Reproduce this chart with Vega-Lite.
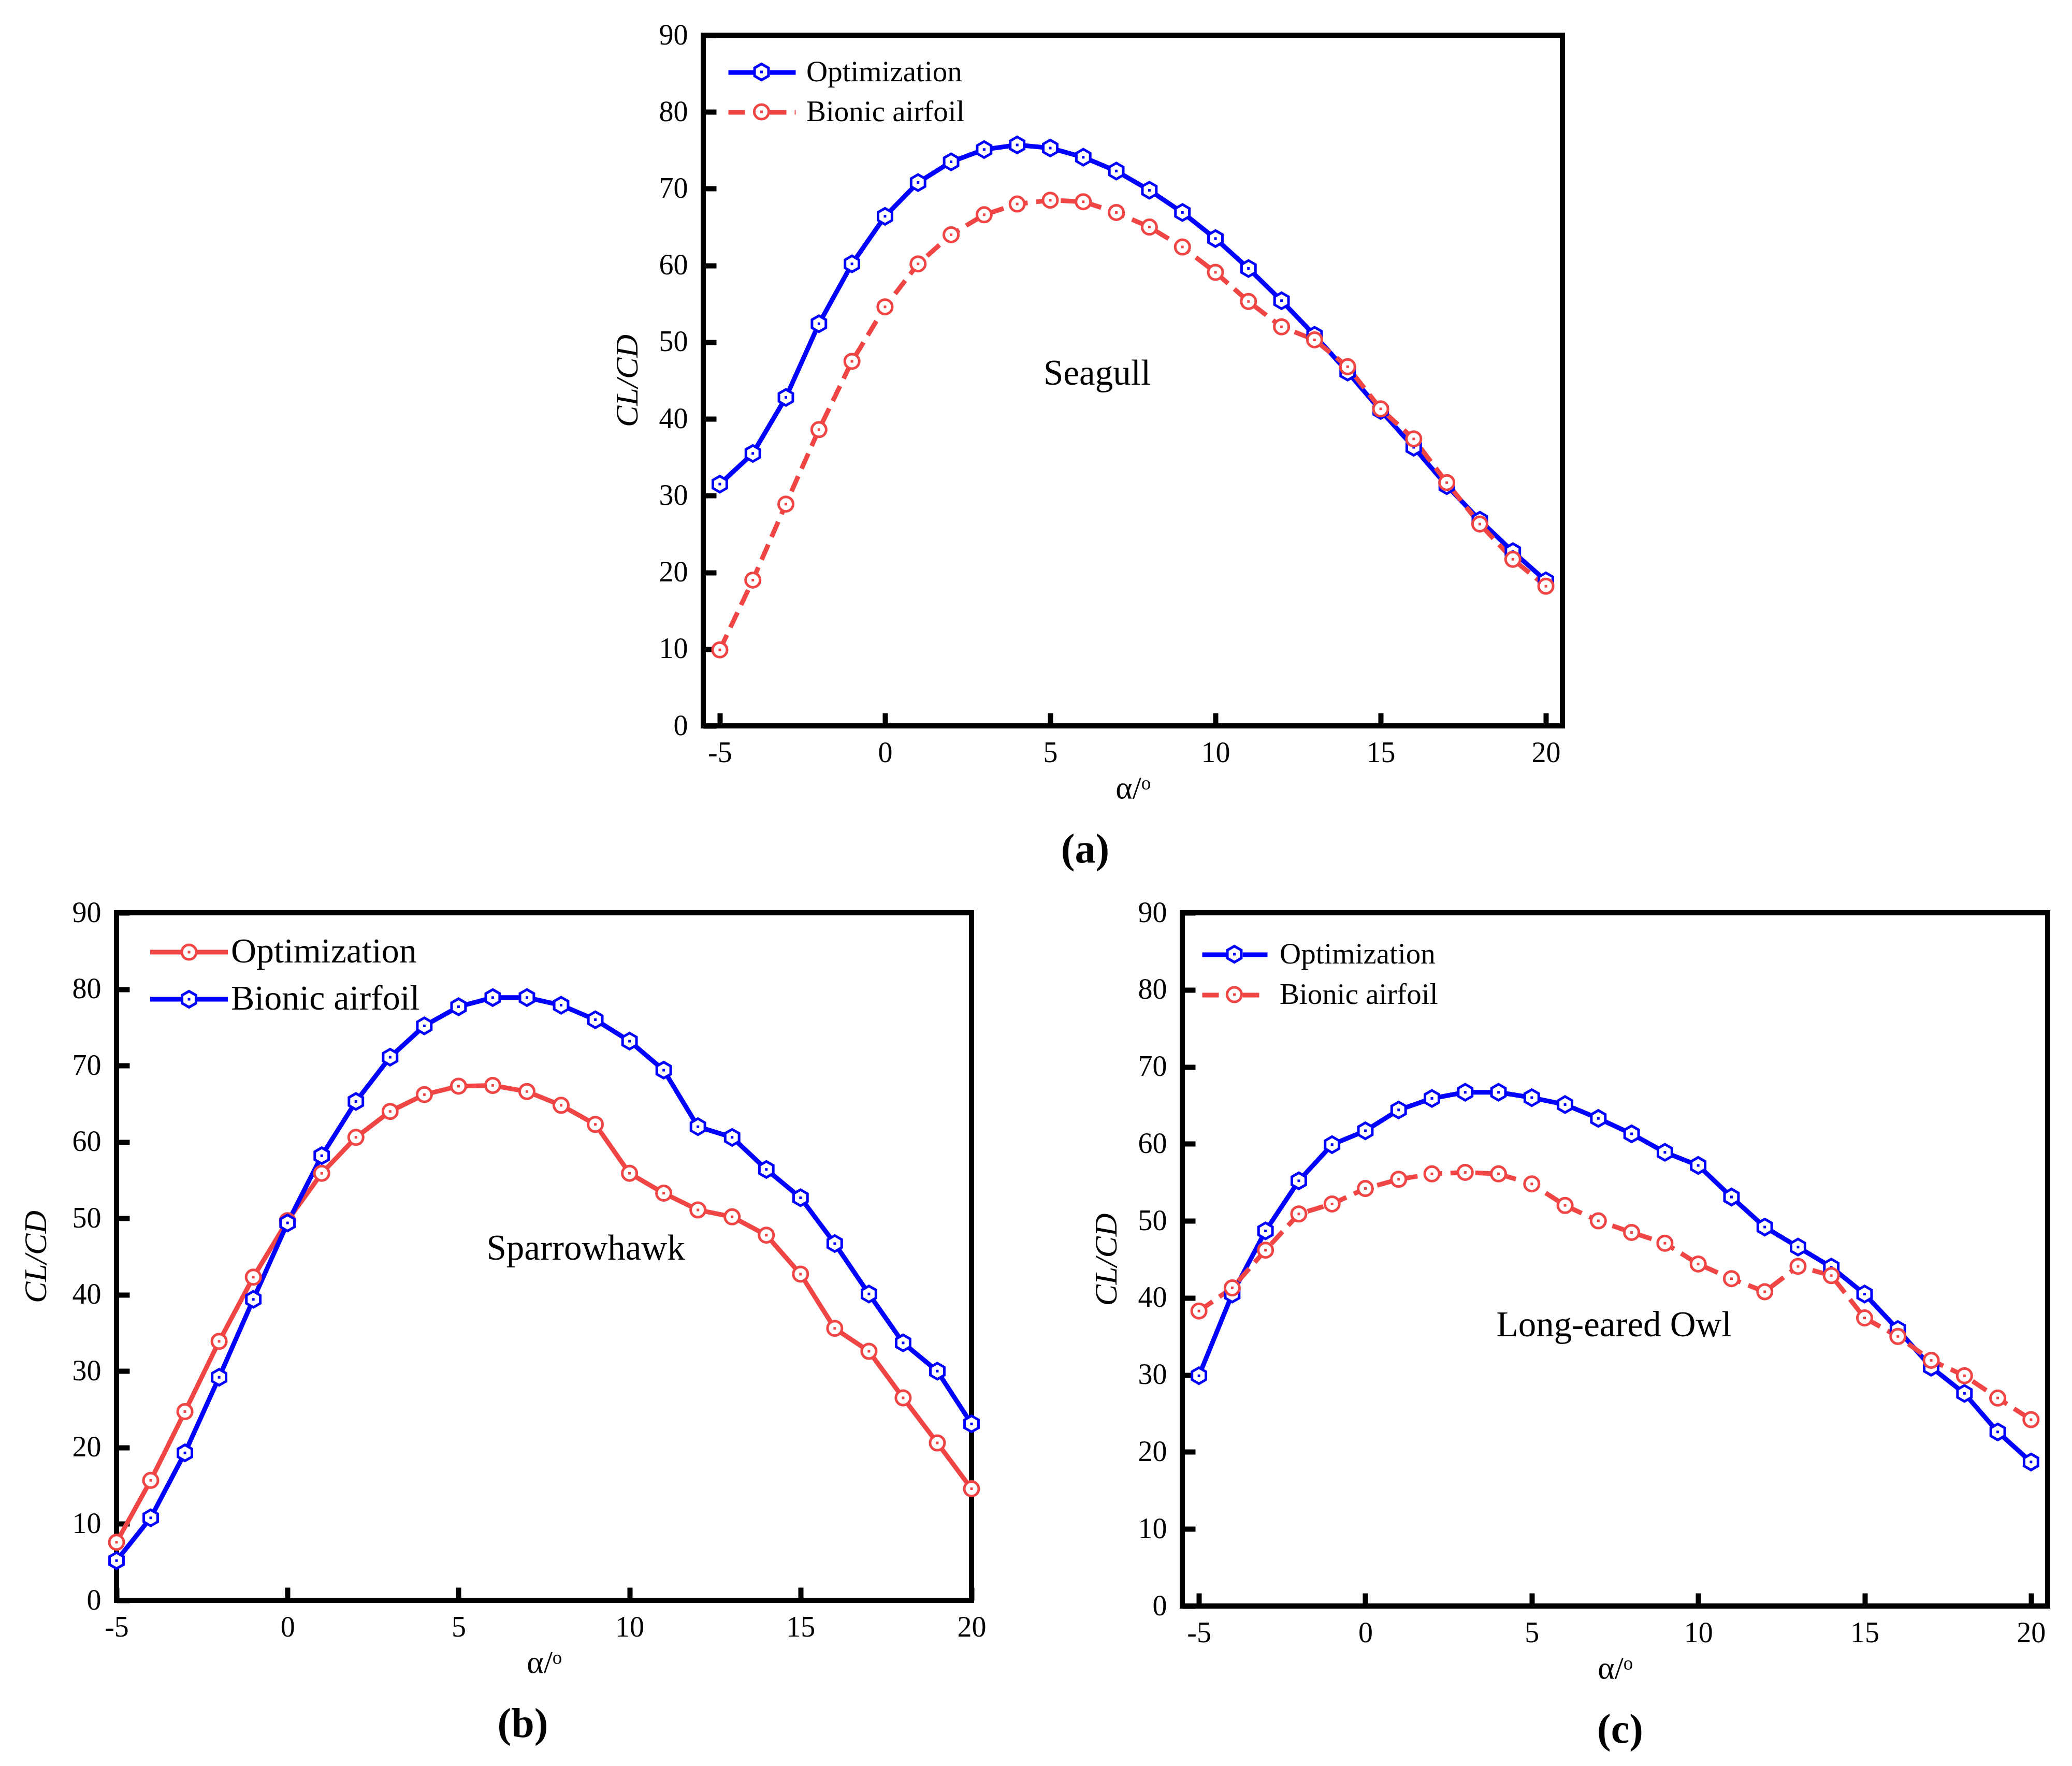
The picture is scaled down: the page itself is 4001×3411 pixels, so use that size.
{
  "$schema": "https://vega.github.io/schema/vega-lite/v6.json",
  "padding": {"left": 33, "top": 35, "right": 5, "bottom": 5},
  "background": "white",
  "datasets": {
    "a": [
      {"alpha": -5, "ratio": 31.5, "series": "Optimization"}, {"alpha": -4, "ratio": 35.5, "series": "Optimization"}, {"alpha": -3, "ratio": 42.8, "series": "Optimization"}, {"alpha": -2, "ratio": 52.4, "series": "Optimization"}, {"alpha": -1, "ratio": 60.2, "series": "Optimization"}, {"alpha": 0, "ratio": 66.4, "series": "Optimization"}, {"alpha": 1, "ratio": 70.8, "series": "Optimization"}, {"alpha": 2, "ratio": 73.5, "series": "Optimization"}, {"alpha": 3, "ratio": 75.1, "series": "Optimization"}, {"alpha": 4, "ratio": 75.7, "series": "Optimization"}, {"alpha": 5, "ratio": 75.3, "series": "Optimization"}, {"alpha": 6, "ratio": 74.1, "series": "Optimization"}, {"alpha": 7, "ratio": 72.3, "series": "Optimization"}, {"alpha": 8, "ratio": 69.8, "series": "Optimization"}, {"alpha": 9, "ratio": 66.9, "series": "Optimization"}, {"alpha": 10, "ratio": 63.5, "series": "Optimization"}, {"alpha": 11, "ratio": 59.6, "series": "Optimization"}, {"alpha": 12, "ratio": 55.4, "series": "Optimization"}, {"alpha": 13, "ratio": 50.9, "series": "Optimization"}, {"alpha": 14, "ratio": 46.1, "series": "Optimization"}, {"alpha": 15, "ratio": 41.1, "series": "Optimization"}, {"alpha": 16, "ratio": 36.3, "series": "Optimization"}, {"alpha": 17, "ratio": 31.3, "series": "Optimization"}, {"alpha": 18, "ratio": 26.8, "series": "Optimization"}, {"alpha": 19, "ratio": 22.7, "series": "Optimization"}, {"alpha": 20, "ratio": 18.9, "series": "Optimization"},
      {"alpha": -5, "ratio": 9.9, "series": "Bionic airfoil"}, {"alpha": -4, "ratio": 19.0, "series": "Bionic airfoil"}, {"alpha": -3, "ratio": 28.9, "series": "Bionic airfoil"}, {"alpha": -2, "ratio": 38.6, "series": "Bionic airfoil"}, {"alpha": -1, "ratio": 47.5, "series": "Bionic airfoil"}, {"alpha": 0, "ratio": 54.6, "series": "Bionic airfoil"}, {"alpha": 1, "ratio": 60.2, "series": "Bionic airfoil"}, {"alpha": 2, "ratio": 64.0, "series": "Bionic airfoil"}, {"alpha": 3, "ratio": 66.6, "series": "Bionic airfoil"}, {"alpha": 4, "ratio": 68.0, "series": "Bionic airfoil"}, {"alpha": 5, "ratio": 68.5, "series": "Bionic airfoil"}, {"alpha": 6, "ratio": 68.3, "series": "Bionic airfoil"}, {"alpha": 7, "ratio": 66.9, "series": "Bionic airfoil"}, {"alpha": 8, "ratio": 65.0, "series": "Bionic airfoil"}, {"alpha": 9, "ratio": 62.4, "series": "Bionic airfoil"}, {"alpha": 10, "ratio": 59.1, "series": "Bionic airfoil"}, {"alpha": 11, "ratio": 55.3, "series": "Bionic airfoil"}, {"alpha": 12, "ratio": 52.0, "series": "Bionic airfoil"}, {"alpha": 13, "ratio": 50.3, "series": "Bionic airfoil"}, {"alpha": 14, "ratio": 46.8, "series": "Bionic airfoil"}, {"alpha": 15, "ratio": 41.3, "series": "Bionic airfoil"}, {"alpha": 16, "ratio": 37.4, "series": "Bionic airfoil"}, {"alpha": 17, "ratio": 31.7, "series": "Bionic airfoil"}, {"alpha": 18, "ratio": 26.3, "series": "Bionic airfoil"}, {"alpha": 19, "ratio": 21.7, "series": "Bionic airfoil"}, {"alpha": 20, "ratio": 18.2, "series": "Bionic airfoil"}
    ],
    "b": [
      {"alpha": -5, "ratio": 7.6, "series": "Optimization"}, {"alpha": -4, "ratio": 15.7, "series": "Optimization"}, {"alpha": -3, "ratio": 24.7, "series": "Optimization"}, {"alpha": -2, "ratio": 33.9, "series": "Optimization"}, {"alpha": -1, "ratio": 42.3, "series": "Optimization"}, {"alpha": 0, "ratio": 49.7, "series": "Optimization"}, {"alpha": 1, "ratio": 55.9, "series": "Optimization"}, {"alpha": 2, "ratio": 60.6, "series": "Optimization"}, {"alpha": 3, "ratio": 64.0, "series": "Optimization"}, {"alpha": 4, "ratio": 66.2, "series": "Optimization"}, {"alpha": 5, "ratio": 67.3, "series": "Optimization"}, {"alpha": 6, "ratio": 67.4, "series": "Optimization"}, {"alpha": 7, "ratio": 66.6, "series": "Optimization"}, {"alpha": 8, "ratio": 64.8, "series": "Optimization"}, {"alpha": 9, "ratio": 62.3, "series": "Optimization"}, {"alpha": 10, "ratio": 55.9, "series": "Optimization"}, {"alpha": 11, "ratio": 53.3, "series": "Optimization"}, {"alpha": 12, "ratio": 51.1, "series": "Optimization"}, {"alpha": 13, "ratio": 50.2, "series": "Optimization"}, {"alpha": 14, "ratio": 47.8, "series": "Optimization"}, {"alpha": 15, "ratio": 42.7, "series": "Optimization"}, {"alpha": 16, "ratio": 35.6, "series": "Optimization"}, {"alpha": 17, "ratio": 32.6, "series": "Optimization"}, {"alpha": 18, "ratio": 26.5, "series": "Optimization"}, {"alpha": 19, "ratio": 20.6, "series": "Optimization"}, {"alpha": 20, "ratio": 14.6, "series": "Optimization"},
      {"alpha": -5, "ratio": 5.2, "series": "Bionic airfoil"}, {"alpha": -4, "ratio": 10.8, "series": "Bionic airfoil"}, {"alpha": -3, "ratio": 19.3, "series": "Bionic airfoil"}, {"alpha": -2, "ratio": 29.2, "series": "Bionic airfoil"}, {"alpha": -1, "ratio": 39.4, "series": "Bionic airfoil"}, {"alpha": 0, "ratio": 49.4, "series": "Bionic airfoil"}, {"alpha": 1, "ratio": 58.2, "series": "Bionic airfoil"}, {"alpha": 2, "ratio": 65.3, "series": "Bionic airfoil"}, {"alpha": 3, "ratio": 71.1, "series": "Bionic airfoil"}, {"alpha": 4, "ratio": 75.2, "series": "Bionic airfoil"}, {"alpha": 5, "ratio": 77.7, "series": "Bionic airfoil"}, {"alpha": 6, "ratio": 78.9, "series": "Bionic airfoil"}, {"alpha": 7, "ratio": 78.9, "series": "Bionic airfoil"}, {"alpha": 8, "ratio": 77.9, "series": "Bionic airfoil"}, {"alpha": 9, "ratio": 76.0, "series": "Bionic airfoil"}, {"alpha": 10, "ratio": 73.2, "series": "Bionic airfoil"}, {"alpha": 11, "ratio": 69.4, "series": "Bionic airfoil"}, {"alpha": 12, "ratio": 62.0, "series": "Bionic airfoil"}, {"alpha": 13, "ratio": 60.6, "series": "Bionic airfoil"}, {"alpha": 14, "ratio": 56.4, "series": "Bionic airfoil"}, {"alpha": 15, "ratio": 52.7, "series": "Bionic airfoil"}, {"alpha": 16, "ratio": 46.7, "series": "Bionic airfoil"}, {"alpha": 17, "ratio": 40.1, "series": "Bionic airfoil"}, {"alpha": 18, "ratio": 33.7, "series": "Bionic airfoil"}, {"alpha": 19, "ratio": 30.0, "series": "Bionic airfoil"}, {"alpha": 20, "ratio": 23.1, "series": "Bionic airfoil"}
    ],
    "c": [
      {"alpha": -5, "ratio": 29.9, "series": "Optimization"}, {"alpha": -4, "ratio": 40.5, "series": "Optimization"}, {"alpha": -3, "ratio": 48.7, "series": "Optimization"}, {"alpha": -2, "ratio": 55.2, "series": "Optimization"}, {"alpha": -1, "ratio": 59.9, "series": "Optimization"}, {"alpha": 0, "ratio": 61.7, "series": "Optimization"}, {"alpha": 1, "ratio": 64.4, "series": "Optimization"}, {"alpha": 2, "ratio": 65.9, "series": "Optimization"}, {"alpha": 3, "ratio": 66.7, "series": "Optimization"}, {"alpha": 4, "ratio": 66.7, "series": "Optimization"}, {"alpha": 5, "ratio": 66.0, "series": "Optimization"}, {"alpha": 6, "ratio": 65.1, "series": "Optimization"}, {"alpha": 7, "ratio": 63.3, "series": "Optimization"}, {"alpha": 8, "ratio": 61.3, "series": "Optimization"}, {"alpha": 9, "ratio": 58.9, "series": "Optimization"}, {"alpha": 10, "ratio": 57.2, "series": "Optimization"}, {"alpha": 11, "ratio": 53.1, "series": "Optimization"}, {"alpha": 12, "ratio": 49.2, "series": "Optimization"}, {"alpha": 13, "ratio": 46.6, "series": "Optimization"}, {"alpha": 14, "ratio": 44.0, "series": "Optimization"}, {"alpha": 15, "ratio": 40.5, "series": "Optimization"}, {"alpha": 16, "ratio": 35.9, "series": "Optimization"}, {"alpha": 17, "ratio": 31.0, "series": "Optimization"}, {"alpha": 18, "ratio": 27.6, "series": "Optimization"}, {"alpha": 19, "ratio": 22.6, "series": "Optimization"}, {"alpha": 20, "ratio": 18.7, "series": "Optimization"},
      {"alpha": -5, "ratio": 38.3, "series": "Bionic airfoil"}, {"alpha": -4, "ratio": 41.3, "series": "Bionic airfoil"}, {"alpha": -3, "ratio": 46.2, "series": "Bionic airfoil"}, {"alpha": -2, "ratio": 50.9, "series": "Bionic airfoil"}, {"alpha": -1, "ratio": 52.2, "series": "Bionic airfoil"}, {"alpha": 0, "ratio": 54.2, "series": "Bionic airfoil"}, {"alpha": 1, "ratio": 55.4, "series": "Bionic airfoil"}, {"alpha": 2, "ratio": 56.1, "series": "Bionic airfoil"}, {"alpha": 3, "ratio": 56.3, "series": "Bionic airfoil"}, {"alpha": 4, "ratio": 56.1, "series": "Bionic airfoil"}, {"alpha": 5, "ratio": 54.8, "series": "Bionic airfoil"}, {"alpha": 6, "ratio": 52.0, "series": "Bionic airfoil"}, {"alpha": 7, "ratio": 50.0, "series": "Bionic airfoil"}, {"alpha": 8, "ratio": 48.5, "series": "Bionic airfoil"}, {"alpha": 9, "ratio": 47.1, "series": "Bionic airfoil"}, {"alpha": 10, "ratio": 44.4, "series": "Bionic airfoil"}, {"alpha": 11, "ratio": 42.5, "series": "Bionic airfoil"}, {"alpha": 12, "ratio": 40.8, "series": "Bionic airfoil"}, {"alpha": 13, "ratio": 44.1, "series": "Bionic airfoil"}, {"alpha": 14, "ratio": 42.9, "series": "Bionic airfoil"}, {"alpha": 15, "ratio": 37.4, "series": "Bionic airfoil"}, {"alpha": 16, "ratio": 35.0, "series": "Bionic airfoil"}, {"alpha": 17, "ratio": 31.9, "series": "Bionic airfoil"}, {"alpha": 18, "ratio": 29.9, "series": "Bionic airfoil"}, {"alpha": 19, "ratio": 27.0, "series": "Bionic airfoil"}, {"alpha": 20, "ratio": 24.2, "series": "Bionic airfoil"}
    ],
    "notes": [
      {"panel": "a", "label": "Seagull"},
      {"panel": "b", "label": "Sparrowhawk"},
      {"panel": "c", "label": "Long-eared Owl"}
    ]
  },
  "config": {
    "font": "Liberation Serif",
    "view": {"stroke": "black", "strokeWidth": 10},
    "axis": {
      "grid": false, "domain": false, "ticks": true, "tickSize": -25, "tickWidth": 10, "tickColor": "black",
      "labelFont": "Liberation Serif", "labelFontSize": 56, "labelColor": "black", "labelFlush": false, "labelOverlap": false,
      "titleFont": "Liberation Serif", "titleFontWeight": "normal", "titleColor": "black", "titleFontSize": 62
    },
    "axisX": {"labelPadding": 50, "minExtent": 81, "maxExtent": 81, "titlePadding": 9},
    "axisY": {"labelPadding": 55, "minExtent": 86, "maxExtent": 86, "titlePadding": 29},
    "legend": {"padding": 0, "labelFont": "Liberation Serif", "labelColor": "black", "labelLimit": 0},
    "title": {"font": "Liberation Serif", "fontSize": 80, "fontWeight": "bold", "color": "black", "orient": "bottom", "anchor": "middle", "frame": "group"}
  },
  "resolve": {"scale": {"x": "independent", "y": "independent", "color": "independent", "stroke": "independent", "shape": "independent", "strokeDash": "independent"}},
  "spacing": 43,
  "vconcat": [
    {
      "spacing": 20,
      "resolve": {"scale": {"x": "independent", "y": "independent", "color": "independent", "stroke": "independent", "shape": "independent", "strokeDash": "independent"}},
      "hconcat": [
        {"width": 930, "height": 10, "data": {"values": []}, "mark": {"type": "point", "opacity": 0}, "view": {"stroke": null}},
        {
          "width": 1659, "height": 1334,
          "title": {"text": "(a)", "dx": -92, "offset": 50},
          "layer": [
            {"data": {"name": "a"}, "mark": {"type": "line", "strokeWidth": 9},
             "encoding": {
               "x": {"field": "alpha", "type": "quantitative", "scale": {"domain": [-5.5, 20.5], "nice": false, "zero": false}, "axis": {"title": "α/ᵒ", "values": [-5, 0, 5, 10, 15, 20], "labelExpr": "'' + datum.value"}},
               "y": {"field": "ratio", "type": "quantitative", "scale": {"domain": [0, 90], "nice": false}, "axis": {"title": "CL/CD", "titleFontStyle": "italic", "values": [0, 10, 20, 30, 40, 50, 60, 70, 80, 90]}},
               "color": {"field": "series", "type": "nominal", "scale": {"domain": ["Optimization", "Bionic airfoil"], "range": ["#0000FF", "#F04545"]},
                 "legend": {"orient": "none", "legendX": 84, "legendY": 42.5, "title": null, "symbolType": "M-2.6,0H-0.6M0.6,0H2.6", "symbolSize": 2500, "symbolStrokeWidth": 9, "labelFontSize": 57, "labelOffset": 56, "rowPadding": 19}},
               "strokeDash": {"field": "series", "type": "nominal", "scale": {"domain": ["Optimization", "Bionic airfoil"], "range": [[1, 0], [32, 16]]},
                 "legend": {"orient": "none", "legendX": 84, "legendY": 42.5, "title": null, "symbolType": "M-2.6,0H-0.6M0.6,0H2.6", "symbolSize": 2500, "symbolStrokeWidth": 9, "labelFontSize": 57, "labelOffset": 56, "rowPadding": 19}}
             }},
            {"data": {"name": "a"}, "mark": {"type": "point", "filled": true, "fill": "white", "opacity": 1, "strokeWidth": 5, "size": 2500},
             "encoding": {
               "x": {"field": "alpha", "type": "quantitative"},
               "y": {"field": "ratio", "type": "quantitative"},
               "stroke": {"field": "series", "type": "nominal", "scale": {"domain": ["Bionic airfoil", "Optimization"], "range": ["#F04545", "#0000FF"]},
                 "legend": {"orient": "none", "legendX": 84, "legendY": 42.5, "title": null, "values": ["Optimization", "Bionic airfoil"], "symbolSize": 2500, "symbolStrokeWidth": 5, "symbolFillColor": "white", "labelFontSize": 57, "labelOffset": 56, "rowPadding": 19, "labelOpacity": 0}},
               "shape": {"field": "series", "type": "nominal", "scale": {"domain": ["Bionic airfoil", "Optimization"], "range": ["M0.56,0A0.56,0.56 0 1,1 -0.56,0A0.56,0.56 0 1,1 0.56,0Z M0,-0.1L0,0.1", "M0,-0.62L0.537,-0.31L0.537,0.31L0,0.62L-0.537,0.31L-0.537,-0.31Z M0,-0.1L0,0.1"]},
                 "legend": {"orient": "none", "legendX": 84, "legendY": 42.5, "title": null, "values": ["Optimization", "Bionic airfoil"], "symbolSize": 2500, "symbolStrokeWidth": 5, "symbolFillColor": "white", "labelFontSize": 57, "labelOffset": 56, "rowPadding": 19, "labelOpacity": 0}}
             }},
            {"data": {"name": "notes"}, "transform": [{"filter": "datum.panel === 'a'"}],
             "mark": {"type": "text", "fontSize": 69, "font": "Liberation Serif", "fill": "black"},
             "encoding": {"x": {"datum": 6.42}, "y": {"datum": 45.9}, "text": {"field": "label", "type": "nominal"}}}
          ]
        }
      ]
    },
    {
      "spacing": 191,
      "resolve": {"scale": {"x": "independent", "y": "independent", "color": "independent", "stroke": "independent", "shape": "independent", "strokeDash": "independent"}},
      "hconcat": [
        {
          "width": 1651, "height": 1328,
          "title": {"text": "(b)", "dx": -41, "offset": 50},
          "layer": [
            {"data": {"name": "b"}, "mark": {"type": "line", "strokeWidth": 9},
             "encoding": {
               "x": {"field": "alpha", "type": "quantitative", "scale": {"domain": [-5, 20], "nice": false, "zero": false}, "axis": {"title": "α/ᵒ", "values": [-5, 0, 5, 10, 15, 20], "labelExpr": "'' + datum.value"}},
               "y": {"field": "ratio", "type": "quantitative", "scale": {"domain": [0, 90], "nice": false}, "axis": {"title": "CL/CD", "titleFontStyle": "italic", "titlePadding": 38, "values": [0, 10, 20, 30, 40, 50, 60, 70, 80, 90]}},
               "color": {"field": "series", "type": "nominal", "scale": {"domain": ["Optimization", "Bionic airfoil"], "range": ["#F04545", "#0000FF"]},
                 "legend": {"orient": "none", "legendX": 106, "legendY": 42, "title": null, "symbolType": "M-3,0H-0.6M0.6,0H3", "symbolSize": 2500, "symbolStrokeWidth": 9, "labelFontSize": 68, "labelOffset": 47, "rowPadding": 23}}
             }},
            {"data": {"name": "b"}, "mark": {"type": "point", "filled": true, "fill": "white", "opacity": 1, "strokeWidth": 5, "size": 2500},
             "encoding": {
               "x": {"field": "alpha", "type": "quantitative"},
               "y": {"field": "ratio", "type": "quantitative"},
               "stroke": {"field": "series", "type": "nominal", "scale": {"domain": ["Bionic airfoil", "Optimization"], "range": ["#0000FF", "#F04545"]},
                 "legend": {"orient": "none", "legendX": 106, "legendY": 42, "title": null, "values": ["Optimization", "Bionic airfoil"], "symbolSize": 2500, "symbolStrokeWidth": 5, "symbolFillColor": "white", "labelFontSize": 68, "labelOffset": 47, "rowPadding": 23, "labelOpacity": 0}},
               "shape": {"field": "series", "type": "nominal", "scale": {"domain": ["Bionic airfoil", "Optimization"], "range": ["M0,-0.62L0.537,-0.31L0.537,0.31L0,0.62L-0.537,0.31L-0.537,-0.31Z M0,-0.1L0,0.1", "M0.56,0A0.56,0.56 0 1,1 -0.56,0A0.56,0.56 0 1,1 0.56,0Z M0,-0.1L0,0.1"]},
                 "legend": {"orient": "none", "legendX": 106, "legendY": 42, "title": null, "values": ["Optimization", "Bionic airfoil"], "symbolSize": 2500, "symbolStrokeWidth": 5, "symbolFillColor": "white", "labelFontSize": 68, "labelOffset": 47, "rowPadding": 23, "labelOpacity": 0}}
             }},
            {"data": {"name": "notes"}, "transform": [{"filter": "datum.panel === 'b'"}],
             "mark": {"type": "text", "fontSize": 69, "font": "Liberation Serif", "fill": "black"},
             "encoding": {"x": {"datum": 8.72}, "y": {"datum": 46.0}, "text": {"field": "label", "type": "nominal"}}}
          ]
        },
        {
          "width": 1671, "height": 1339,
          "title": {"text": "(c)", "dx": 10, "offset": 50},
          "layer": [
            {"data": {"name": "c"}, "mark": {"type": "line", "strokeWidth": 9},
             "encoding": {
               "x": {"field": "alpha", "type": "quantitative", "scale": {"domain": [-5.5, 20.5], "nice": false, "zero": false}, "axis": {"title": "α/ᵒ", "values": [-5, 0, 5, 10, 15, 20], "labelExpr": "'' + datum.value"}},
               "y": {"field": "ratio", "type": "quantitative", "scale": {"domain": [0, 90], "nice": false}, "axis": {"title": "CL/CD", "titleFontStyle": "italic", "values": [0, 10, 20, 30, 40, 50, 60, 70, 80, 90]}},
               "color": {"field": "series", "type": "nominal", "scale": {"domain": ["Optimization", "Bionic airfoil"], "range": ["#0000FF", "#F04545"]},
                 "legend": {"orient": "none", "legendX": 72, "legendY": 51.5, "title": null, "symbolType": "M-2.52,0H-0.6M0.6,0H2.52", "symbolSize": 2500, "symbolStrokeWidth": 9, "labelFontSize": 57, "labelOffset": 57, "rowPadding": 20}},
               "strokeDash": {"field": "series", "type": "nominal", "scale": {"domain": ["Optimization", "Bionic airfoil"], "range": [[1, 0], [32, 16]]},
                 "legend": {"orient": "none", "legendX": 72, "legendY": 51.5, "title": null, "symbolType": "M-2.52,0H-0.6M0.6,0H2.52", "symbolSize": 2500, "symbolStrokeWidth": 9, "labelFontSize": 57, "labelOffset": 57, "rowPadding": 20}}
             }},
            {"data": {"name": "c"}, "mark": {"type": "point", "filled": true, "fill": "white", "opacity": 1, "strokeWidth": 5, "size": 2500},
             "encoding": {
               "x": {"field": "alpha", "type": "quantitative"},
               "y": {"field": "ratio", "type": "quantitative"},
               "stroke": {"field": "series", "type": "nominal", "scale": {"domain": ["Bionic airfoil", "Optimization"], "range": ["#F04545", "#0000FF"]},
                 "legend": {"orient": "none", "legendX": 72, "legendY": 51.5, "title": null, "values": ["Optimization", "Bionic airfoil"], "symbolSize": 2500, "symbolStrokeWidth": 5, "symbolFillColor": "white", "labelFontSize": 57, "labelOffset": 57, "rowPadding": 20, "labelOpacity": 0}},
               "shape": {"field": "series", "type": "nominal", "scale": {"domain": ["Bionic airfoil", "Optimization"], "range": ["M0.56,0A0.56,0.56 0 1,1 -0.56,0A0.56,0.56 0 1,1 0.56,0Z M0,-0.1L0,0.1", "M0,-0.62L0.537,-0.31L0.537,0.31L0,0.62L-0.537,0.31L-0.537,-0.31Z M0,-0.1L0,0.1"]},
                 "legend": {"orient": "none", "legendX": 72, "legendY": 51.5, "title": null, "values": ["Optimization", "Bionic airfoil"], "symbolSize": 2500, "symbolStrokeWidth": 5, "symbolFillColor": "white", "labelFontSize": 57, "labelOffset": 57, "rowPadding": 20, "labelOpacity": 0}}
             }},
            {"data": {"name": "notes"}, "transform": [{"filter": "datum.panel === 'c'"}],
             "mark": {"type": "text", "fontSize": 69, "font": "Liberation Serif", "fill": "black"},
             "encoding": {"x": {"datum": 7.47}, "y": {"datum": 36.4}, "text": {"field": "label", "type": "nominal"}}}
          ]
        }
      ]
    }
  ]
}
